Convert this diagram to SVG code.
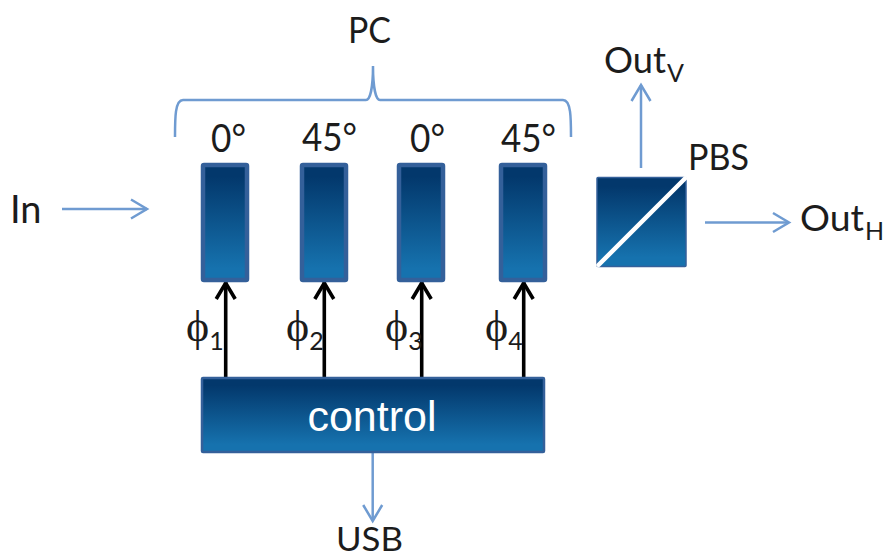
<svg xmlns="http://www.w3.org/2000/svg" width="886" height="558" viewBox="0 0 886 558">
<style>
text{font-family:"Lato","Open Sans","Liberation Sans",sans-serif;font-size:36px;fill:#1c1c1c}
.ang{font-size:38px}
.sub{font-size:25px;font-family:"Lato","Open Sans","Liberation Sans",sans-serif}
.phi{font-family:"Liberation Serif","DejaVu Serif",serif;font-size:44px}
.box{fill:url(#g);stroke:#34609a;stroke-width:4.500;stroke-linejoin:round}
.blue{fill:none;stroke:#6f9bd1;stroke-width:2.500}
.blk{fill:none;stroke:#000;stroke-width:3.600}
</style>
<defs>
<linearGradient id="g" x1="0" y1="0" x2="0" y2="1"><stop offset="0.1" stop-color="#03386c"/><stop offset="0.9" stop-color="#1672ae"/></linearGradient>
<marker id="ab" markerUnits="userSpaceOnUse" markerWidth="24" markerHeight="24" refX="19" refY="12" orient="auto"><path d="M3 2.500L19 12L3 21.500" fill="none" stroke="#6f9bd1" stroke-width="2.500"/></marker>
<marker id="ak" markerUnits="userSpaceOnUse" markerWidth="26" markerHeight="26" refX="19" refY="13" orient="auto"><path d="M2 3.500L18 13L2 22.500" fill="none" stroke="#000" stroke-width="3.600"/></marker>
</defs>
<g id="connectors">
<path class="blue" d="M62 209H147" marker-end="url(#ab)"/>
<path class="blue" d="M641 168V85" marker-end="url(#ab)"/>
<path class="blue" d="M705 222.500H789" marker-end="url(#ab)"/>
<path class="blue" d="M372.700 453V521" marker-end="url(#ab)"/>
<path class="blk" d="M225.700 377V282" marker-end="url(#ak)"/>
<path class="blk" d="M324.300 377V282" marker-end="url(#ak)"/>
<path class="blk" d="M421.700 377V282" marker-end="url(#ak)"/>
<path class="blk" d="M523.700 377V282" marker-end="url(#ak)"/>
</g>
<path id="brace" class="blue" d="M175 137C175 118 175 100 183 100H366C370 100 373 88 373 66C373 88 376 100 380 100H563C571 100 571 118 571 137"/>
<g id="pc-label"><text x="348" y="43" textLength="43" lengthAdjust="spacingAndGlyphs">PC</text></g>
<g id="angle1"><text class="ang" x="211" y="152" textLength="35" lengthAdjust="spacingAndGlyphs">0°</text></g>
<g id="angle2"><text class="ang" x="302" y="151" textLength="55" lengthAdjust="spacingAndGlyphs">45°</text></g>
<g id="angle3"><text class="ang" x="410" y="152" textLength="35" lengthAdjust="spacingAndGlyphs">0°</text></g>
<g id="angle4"><text class="ang" x="501" y="152" textLength="55" lengthAdjust="spacingAndGlyphs">45°</text></g>
<g id="in-label"><text x="10" y="223" style="font-size:38px">In</text></g>
<g id="box1"><rect class="box" x="203" y="165" width="44" height="115" rx="1"/></g>
<g id="box2"><rect class="box" x="302" y="165" width="44" height="115" rx="1"/></g>
<g id="box3"><rect class="box" x="399" y="165" width="44" height="115" rx="1"/></g>
<g id="box4"><rect class="box" x="501" y="165" width="44" height="115" rx="1"/></g>
<g id="phi1"><text x="186" y="341"><tspan class="phi">ϕ</tspan><tspan class="sub" dy="9">1</tspan></text></g>
<g id="phi2"><text x="286" y="341"><tspan class="phi">ϕ</tspan><tspan class="sub" dy="9">2</tspan></text></g>
<g id="phi3"><text x="385" y="341"><tspan class="phi">ϕ</tspan><tspan class="sub" dy="9">3</tspan></text></g>
<g id="phi4"><text x="485" y="341"><tspan class="phi">ϕ</tspan><tspan class="sub" dy="9">4</tspan></text></g>
<g id="control"><rect x="202" y="378" width="342" height="74" rx="1" fill="url(#g)" stroke="#34609a" stroke-width="2.500"/><text x="372" y="431" text-anchor="middle" style="font-family:'Liberation Sans',sans-serif;font-size:43px;fill:#fff">control</text></g>
<g id="usb-label"><text x="336" y="551" style="font-size:33px" textLength="67" lengthAdjust="spacingAndGlyphs">USB</text></g>
<g id="pbs"><rect x="597" y="177.500" width="89" height="89" rx="1" fill="url(#g)" stroke="#34609a" stroke-width="1.500"/><path d="M598.500 265L685 178.500" stroke="#fff" stroke-width="4.500" stroke-linecap="round"/></g>
<g id="pbs-label"><text x="688" y="170" textLength="61" lengthAdjust="spacingAndGlyphs">PBS</text></g>
<g id="outv-label"><text x="604" y="73" textLength="62" lengthAdjust="spacingAndGlyphs">Out</text><text class="sub" x="667" y="82">V</text></g>
<g id="outh-label"><text x="800" y="231" textLength="64" lengthAdjust="spacingAndGlyphs">Out</text><text class="sub" x="865" y="240">H</text></g>
</svg>
